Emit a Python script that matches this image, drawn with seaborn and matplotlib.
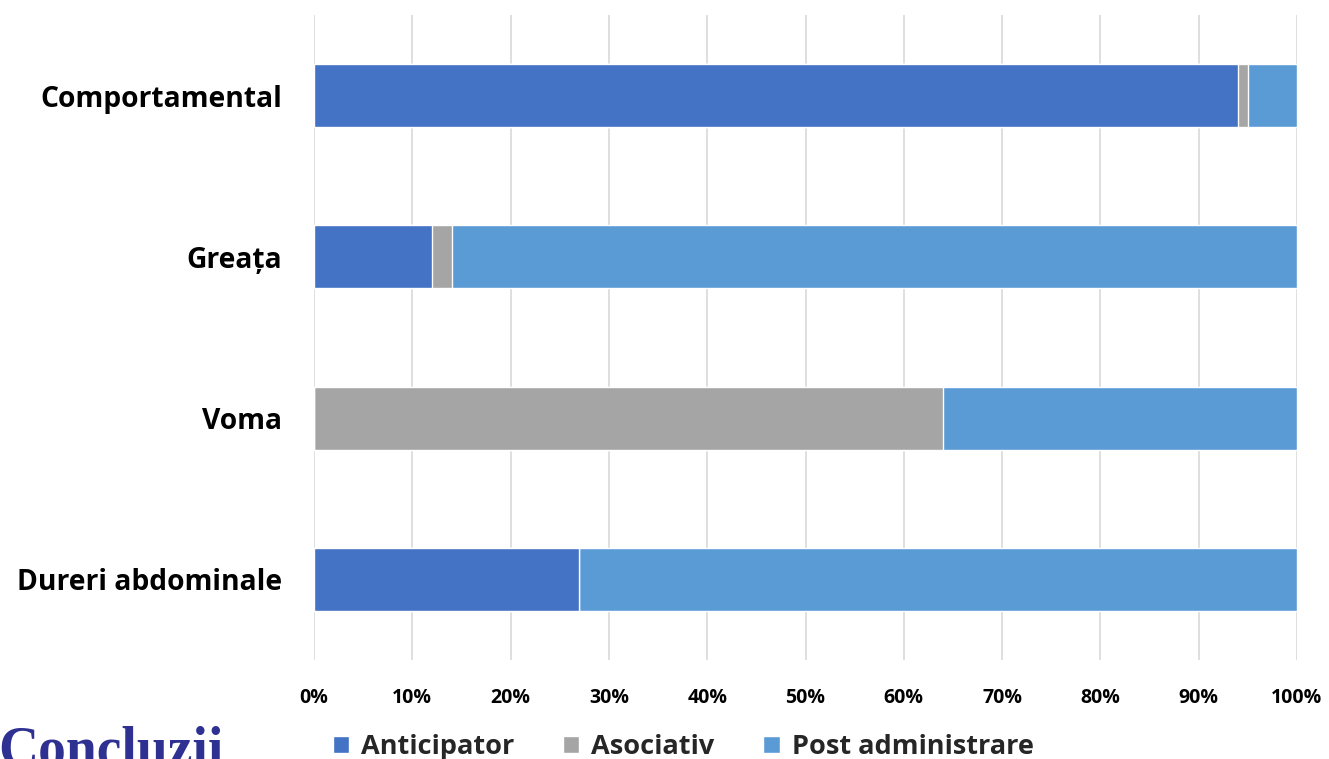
import numpy as np
import pandas as pd
import matplotlib.pyplot as plt
import seaborn as sns
from matplotlib.patches import Patch

categorii = ["Comportamental", "Greața", "Voma", "Dureri abdominale"]
anticipator = [94, 12, 0, 27]
asociativ = [1, 2, 64, 0]
post_admin = [5, 86, 36, 73]
serii = ["Anticipator", "Asociativ", "Post administrare"]
culori = ["#4472C4", "#A5A5A5", "#5B9BD5"]
ticks = list(range(0, 101, 10))

df = pd.DataFrame({
    "cat": categorii,
    "a": anticipator,
    "b": np.array(anticipator) + np.array(asociativ),
    "c": np.array(anticipator) + np.array(asociativ) + np.array(post_admin),
})

sns.set_style("white")
plt.rcParams["font.family"] = ["Open Sans", "DejaVu Sans"]

fig = plt.figure(figsize=(13.29, 7.59), dpi=100)
ax = fig.add_axes([314 / 1329, 1 - 660 / 759, 983 / 1329, 645 / 759])

# stacked bars: draw cumulative totals back to front
for col, c in zip(["c", "b", "a"], culori[::-1]):
    sns.barplot(data=df, y="cat", x=col, color=c, width=0.39,
                saturation=1, ax=ax, orient="h", zorder=3)

ax.set_xlim(0, 100)
ax.set_ylim(3.5, -0.5)
ax.set_xticks(ticks)
ax.set_xticklabels([f"{t}%" for t in ticks], fontsize=14, fontweight="bold",
                   color="black")
ax.set_yticklabels(categorii, fontsize=20.3, fontweight="bold", color="black")
ax.tick_params(axis="x", pad=20, length=0)
ax.tick_params(axis="y", pad=23, length=0)
ax.set_xlabel("")
ax.set_ylabel("")
ax.grid(axis="x", color="#D9D9D9", linewidth=1.2, zorder=0)
for s in ax.spines.values():
    s.set_visible(False)

handles = [Patch(facecolor=c, label=s) for s, c in zip(serii, culori)]
leg = fig.legend(handles=handles, loc="center", bbox_to_anchor=(0.514, 0.016),
                 ncol=3, frameon=False, handlelength=0.6, handleheight=0.6,
                 handletextpad=0.45, columnspacing=1.8,
                 prop={"size": 19.5, "weight": "bold"})

fig.text(-0.001, 1 - 726 / 759, "Concluzii", fontsize=40, fontweight="bold",
         color="#2E3192", family="Liberation Serif", va="top", ha="left")

fig.savefig("out.png", dpi=100, facecolor="white")
